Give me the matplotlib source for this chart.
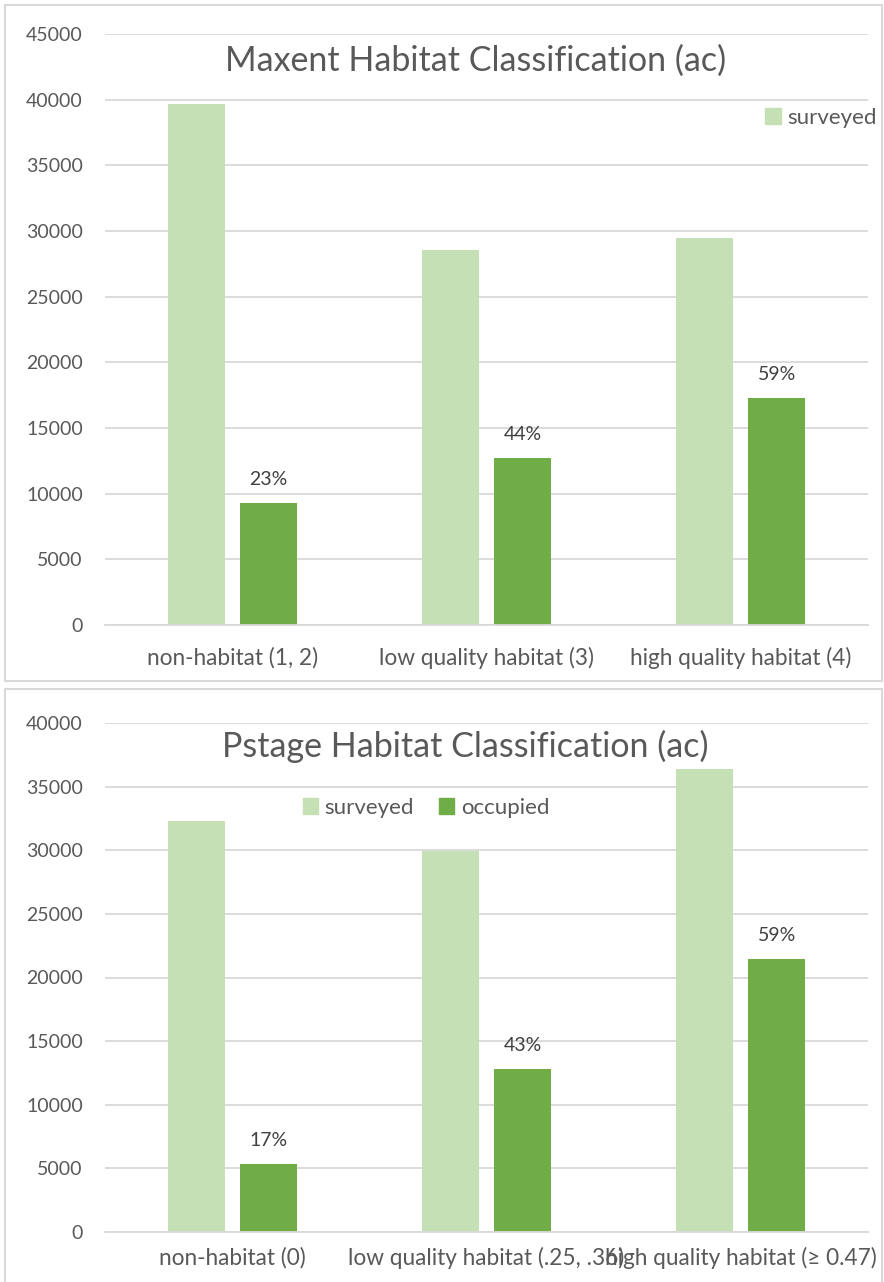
import matplotlib.pyplot as plt
from matplotlib.patches import Rectangle, Patch
import numpy as np

plt.rcParams['font.family'] = ['Lato', 'DejaVu Sans']

# top chart data
maxent_cats = ["non-habitat (1, 2)", "low quality habitat (3)", "high quality habitat (4)"]
maxent_surveyed = [39700, 28550, 29500]
maxent_occupied = [9270, 12700, 17280]
maxent_pct = ["23%", "44%", "59%"]

# bottom chart data
pstage_cats = ["non-habitat (0)", "low quality habitat (.25, .36)", "high quality habitat (\u2265 0.47)"]
pstage_surveyed = [32300, 29950, 36350]
pstage_occupied = [5330, 12800, 21450]
pstage_pct = ["17%", "43%", "59%"]

W, H = 884, 1282
LIGHT = "#C5E0B4"
DARK = "#70AD47"
TXT = "#595959"
GRID = "#D9D9D9"

fig = plt.figure(figsize=(W / 100, H / 100), dpi=100)


def px_axes(left, top, right, bottom):
    return fig.add_axes([left / W, 1 - bottom / H, (right - left) / W, (bottom - top) / H])


def draw_panel(ax, cats, surveyed, occupied, pct, ymax, xlabel_pad):
    x = np.arange(len(cats))
    w = 0.224
    off = 0.1415
    ax.bar(x - off, surveyed, w, color=LIGHT, zorder=2)
    ax.bar(x + off, occupied, w, color=DARK, zorder=2)
    for xi, v, t in zip(x, occupied, pct):
        ax.annotate(t, (xi + off, v), xytext=(0, 11), textcoords="offset points",
                    ha="center", va="bottom", fontsize=14, color="#404040")
    ax.set_xlim(-0.5, len(cats) - 0.5)
    ax.set_ylim(0, ymax)
    ax.set_yticks(np.arange(0, ymax + 1, 5000))
    ax.set_xticks(x)
    ax.set_xticklabels(cats)
    ax.tick_params(axis="y", length=0, pad=16, labelsize=14, labelcolor=TXT)
    ax.tick_params(axis="x", length=0, pad=xlabel_pad, labelsize=16.3, labelcolor=TXT)
    ax.grid(axis="y", color=GRID, linewidth=1.3, zorder=0)
    ax.set_axisbelow(True)
    for s in ["top", "right", "left"]:
        ax.spines[s].set_visible(False)
    ax.spines["bottom"].set_color(GRID)
    ax.spines["bottom"].set_linewidth(1.3)


# panel borders
fig.patches.append(Rectangle((5 / W, 1 - 681 / H), 877 / W, 676 / H, transform=fig.transFigure,
                             fill=False, edgecolor=GRID, linewidth=1.5))
fig.patches.append(Rectangle((5 / W, 1 - 1290 / H), 877 / W, 601 / H, transform=fig.transFigure,
                             fill=False, edgecolor=GRID, linewidth=1.5))

ax1 = px_axes(105, 34, 868, 625)
draw_panel(ax1, maxent_cats, maxent_surveyed, maxent_occupied, maxent_pct, 45000, 16)
fig.text(476 / W, 1 - 61 / H, "Maxent Habitat Classification (ac)", ha="center", va="center",
         fontsize=24.5, color=TXT)
ax1.legend(handles=[Patch(color=LIGHT, label="surveyed")], loc="center",
           bbox_to_anchor=(821 / W, 1 - 118 / H), bbox_transform=fig.transFigure,
           frameon=False, fontsize=16, labelcolor=TXT, handlelength=0.7, handleheight=0.7,
           handletextpad=0.3)

ax2 = px_axes(105, 723, 868, 1232)
draw_panel(ax2, pstage_cats, pstage_surveyed, pstage_occupied, pstage_pct, 40000, 11)
fig.text(465 / W, 1 - 746 / H, "Pstage Habitat Classification (ac)", ha="center", va="center",
         fontsize=24.5, color=TXT)
ax2.legend(handles=[Patch(color=LIGHT, label="surveyed"), Patch(color=DARK, label="occupied")],
           loc="center", ncol=2, bbox_to_anchor=(426 / W, 1 - 808 / H), bbox_transform=fig.transFigure,
           frameon=False, fontsize=16, labelcolor=TXT, handlelength=0.7, handleheight=0.7,
           handletextpad=0.3, columnspacing=1.1)

fig.savefig("out.png", dpi=100)
